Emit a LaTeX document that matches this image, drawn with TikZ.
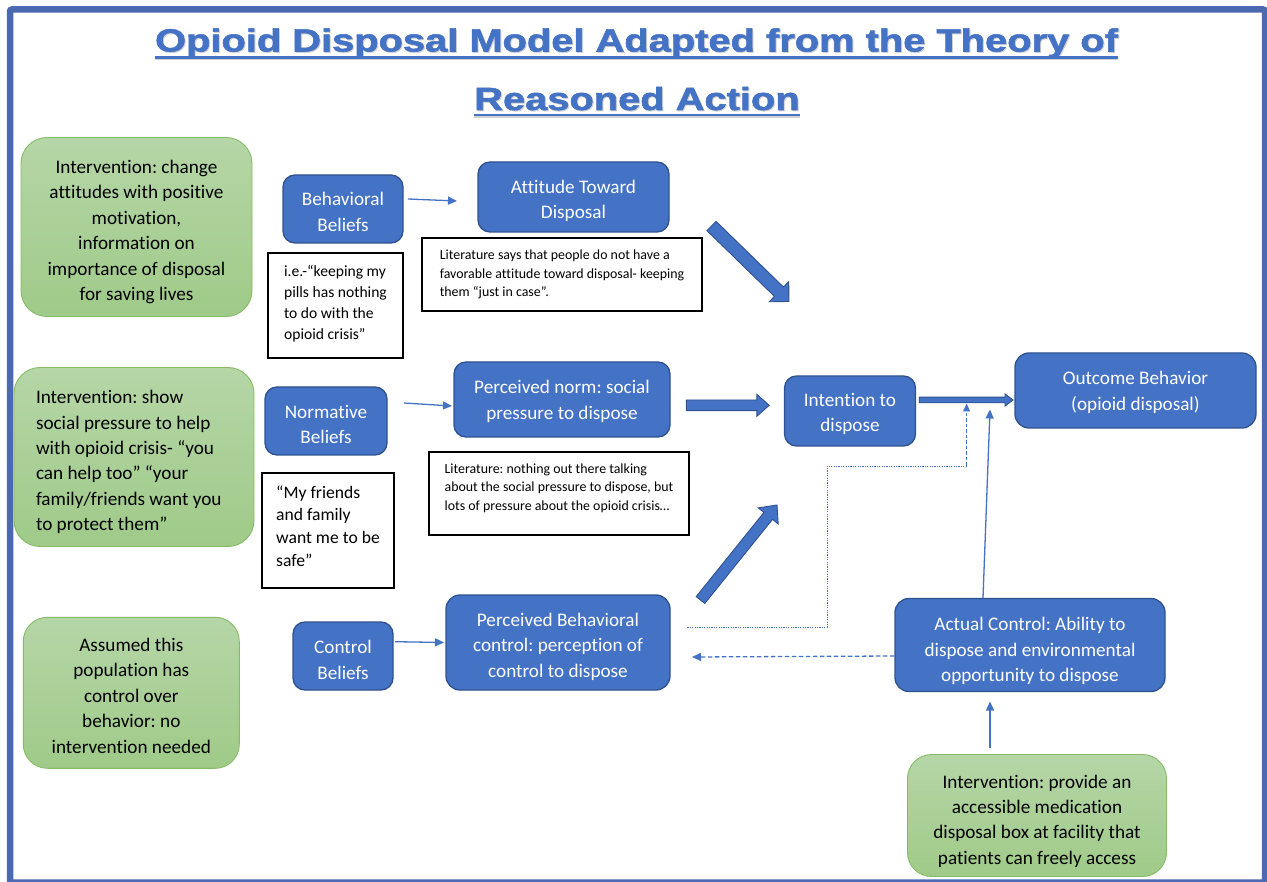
\documentclass[tikz,border=0pt]{standalone}
\usepackage{fontspec}
\setmainfont{Carlito}[Ligatures=NoCommon]
\newfontfamily\titlefont{Liberation Sans Bold}[FakeBold=1.6]
\usetikzlibrary{arrows.meta,calc}
\frenchspacing
\definecolor{boxblue}{HTML}{4472C4}
\definecolor{boxborder}{HTML}{2F528F}
\definecolor{frameblue}{HTML}{4A69B0}
\definecolor{greentop}{HTML}{B5D6A7}
\definecolor{greenbot}{HTML}{9FCA88}
\definecolor{greenborder}{HTML}{86BC66}
% shift text block down (first line strut) or up (last line depth)
\newcommand{\dn}[1]{\setbox0\hbox{Ahl}\rule{0pt}{\dimexpr\ht0+#1*2\relax}}
\newcommand{\upl}[1]{\setbox0\hbox{gpy}\rule[-\dimexpr\dp0+#1*2\relax]{0pt}{\dimexpr\dp0+#1*2\relax}}
\tikzset{
  bluebox/.style={draw=boxborder, line width=1.3pt, fill=boxblue, rounded corners=12pt,
    text=white, align=center, inner sep=0pt, font=\fontsize{19.2}{25.4}\selectfont},
  greenbox/.style={draw=greenborder, line width=0.9pt, top color=greentop, bottom color=greenbot,
    rounded corners=26pt, align=center, inner sep=0pt, text=black, font=\fontsize{19.2}{25.4}\selectfont},
  notebox/.style={draw=black, line width=1.1pt, fill=white, align=flush left, inner sep=0pt},
  thinarrow/.style={draw=boxblue, line width=1.3pt, -{Triangle[length=9pt,width=8pt]}},
  dasharrow/.style={draw=boxblue, line width=1.3pt, dash pattern=on 4.5pt off 2.5pt, -{Triangle[length=9pt,width=8pt]}},
  dotline/.style={draw=boxblue, line width=0.9pt, dash pattern=on 1.2pt off 1.2pt},
  blockarrow/.style={fill=boxblue, draw=boxborder, line width=0.9pt, line join=miter},
  titletext/.style={inner sep=0pt, anchor=base, font=\titlefont\fontsize{32}{38}\selectfont},
}
% block arrow: #1 start, #2 tip, #3 shaft half width, #4 head half width, #5 head length
\newcommand{\blockarrowpath}[5]{%
  \coordinate (bah) at ($(#2)!#5!(#1)$);
  \draw[blockarrow] ($(#1)!#3!90:(#2)$) -- ($(bah)!#3!90:(#2)$) -- ($(bah)!#4!90:(#2)$) -- (#2)
    -- ($(bah)!#4!-90:(#2)$) -- ($(bah)!#3!-90:(#2)$) -- ($(#1)!#3!-90:(#2)$) -- cycle;
}
\begin{document}
\begin{tikzpicture}[x=1pt,y=-1pt]
\useasboundingbox (0,0) rectangle (1267,882);
\fill[white] (0,0) rectangle (1267,882);
% frame
\draw[frameblue, line width=6.5pt, rounded corners=2pt] (10,9.5) rectangle (1265,882.5);

% title
\node[titletext, text=black!18] at (637.5,52.5) {\scalebox{1.245}[1]{Opioid Disposal Model Adapted from the Theory of}};
\node[titletext, text=black!18] at (638,111) {\scalebox{1.245}[1]{Reasoned Action}};
\node[titletext, text=boxblue] (t1) at (636.5,51.5) {\scalebox{1.245}[1]{Opioid Disposal Model Adapted from the Theory of}};
\node[titletext, text=boxblue] (t2) at (637,110) {\scalebox{1.245}[1]{Reasoned Action}};
\draw[black!18, line width=2.4pt] ([yshift=-7.5pt]t1.base west) -- ([yshift=-7.5pt]t1.base east);
\draw[black!18, line width=2.4pt] ([yshift=-6.8pt]t2.base west) -- ([yshift=-6.8pt]t2.base east);
\draw[boxblue, line width=2.6pt] ([yshift=-5.8pt]t1.base west) -- ([yshift=-5.8pt]t1.base east);
\draw[boxblue, line width=2.6pt] ([yshift=-5pt]t2.base west) -- ([yshift=-5pt]t2.base east);

% green intervention boxes
\node[greenbox, minimum width=231pt, minimum height=179pt] (g1) at (136.5,227)
  {\dn{5pt}Intervention: change\\ attitudes with positive\\ motivation,\\ information on\\ importance of disposal\\ for saving lives};
\node[greenbox, align=flush left, text width=196pt, inner xsep=22pt, minimum height=179pt] (g2) at (134,457)
  {\dn{5pt}Intervention: show\\ social pressure to help\\ with opioid crisis- “you\\ can help too” “your\\ family/friends want you\\ to protect them”};
\node[greenbox, minimum width=216pt, minimum height=151pt, rounded corners=24pt] (g3) at (131.3,692.8)
  {\dn{3pt}Assumed this\\ population has\\ control over\\ behavior: no\\ intervention needed};
\node[greenbox, minimum width=259pt, minimum height=122pt, rounded corners=24pt] (g4) at (1037,815.5)
  {\dn{5.5pt}Intervention: provide an\\ accessible medication\\ disposal box at facility that\\ patients can freely access};

% blue boxes
\node[bluebox, minimum width=120pt, minimum height=68pt] (bb) at (343,209) {\dn{3pt}Behavioral\\ Beliefs};
\node[bluebox, minimum width=191pt, minimum height=70pt] (att) at (573.5,197) {\dn{3.7pt}Attitude Toward\\ Disposal};
\node[bluebox, minimum width=122pt, minimum height=68pt] (nb) at (326,421) {\dn{3.7pt}Normative\\ Beliefs};
\node[bluebox, minimum width=216pt, minimum height=75pt] (pn) at (562,399.5) {\dn{2pt}Perceived norm: social\\ pressure to dispose};
\node[bluebox, minimum width=131pt, minimum height=70pt] (int) at (850,411) {\dn{3pt}Intention to\\ dispose};
\node[bluebox, minimum width=241pt, minimum height=75pt, rounded corners=14pt] (out) at (1135.5,390.5) {\dn{2pt}Outcome Behavior\\ (opioid disposal)};
\node[bluebox, minimum width=100pt, minimum height=68pt] (cb) at (343,656) {\dn{4pt}Control\\ Beliefs};
\node[bluebox, minimum width=224pt, minimum height=95pt, rounded corners=14pt] (pbc) at (558,642.5) {\dn{4pt}Perceived Behavioral\\ control: perception of\\ control to dispose};
\node[bluebox, minimum width=270pt, minimum height=93pt, rounded corners=14pt] (ac) at (1030,645) {\dn{6pt}Actual Control: Ability to\\ dispose and environmental\\ opportunity to dispose};

% note boxes
\node[notebox, minimum width=135pt, minimum height=105pt, font=\fontsize{15.6}{21}\selectfont] (q1) at (335.5,305.5)
  {i.e.-“keeping my\\ pills has nothing\\ to do with the\\ opioid crisis”\upl{2pt}};
\node[notebox, minimum width=280pt, minimum height=73pt, font=\fontsize{13.9}{18.4}\selectfont] (l1) at (562,274.5)
  {Literature says that people do not have a\\ favorable attitude toward disposal- keeping\\ them “just in case”.};
\node[notebox, minimum width=132pt, minimum height=115pt, font=\fontsize{17.6}{22.8}\selectfont] (q2) at (328,530.5)
  {“My friends\\ and family\\ want me to be\\ safe”\upl{3pt}};
\node[notebox, minimum width=260pt, minimum height=83pt, font=\fontsize{13.9}{18.4}\selectfont] (l2) at (559,493.5)
  {\dn{2.5pt}Literature: nothing out there talking\\ about the social pressure to dispose, but\\ lots of pressure about the opioid crisis…\\ \mbox{}};

% thin arrows
\coordinate (bbs) at (408,199);   \coordinate (bbe) at (457,201);
\coordinate (nbs) at (404,403);   \coordinate (nbe) at (452,406);
\coordinate (cbs) at (395,641.7); \coordinate (cbe) at (444,642.5);
\draw[thinarrow] (bbs) -- (bbe);
\draw[thinarrow] (nbs) -- (nbe);
\draw[thinarrow] (cbs) -- (cbe);

% block arrows
\coordinate (a1s) at (711.5,226); \coordinate (a1t) at (789,301.5);
\blockarrowpath{a1s}{a1t}{6.5pt}{14pt}{14pt}
\coordinate (a2s) at (686.3,405.3); \coordinate (a2t) at (769.2,405.3);
\blockarrowpath{a2s}{a2t}{5.3pt}{11pt}{12.4pt}
\coordinate (a3s) at (919.4,400); \coordinate (a3t) at (1013,400);
\blockarrowpath{a3s}{a3t}{2.8pt}{6pt}{8pt}
\coordinate (a4s) at (700.5,600); \coordinate (a4t) at (777,505);
\blockarrowpath{a4s}{a4t}{5.5pt}{12.8pt}{14pt}

% dotted feedback route
\coordinate (d0) at (687.3,627);
\coordinate (d1) at (827,627);
\coordinate (d2) at (827,466);
\coordinate (d3) at (966.6,466);
\coordinate (d4) at (966.6,403.5);
\draw[dotline] (d0) -- (d1) -- (d2) -- (d3);
\draw[draw=boxblue, line width=1.2pt, dash pattern=on 3.5pt off 2pt, -{Triangle[length=8pt,width=7pt]}] (d3) -- (d4);

% actual control links
\coordinate (acup) at (990,409.5);
\draw[thinarrow] ([xshift=-47pt]ac.north) -- (acup);
\coordinate (pbcin) at (692,657);
\draw[dasharrow] ([yshift=-11pt]ac.west) -- (pbcin);
\coordinate (g4s) at (990,747.5);
\coordinate (g4e) at (990,701.5);
\draw[thinarrow] (g4s) -- (g4e);
\end{tikzpicture}
\end{document}
